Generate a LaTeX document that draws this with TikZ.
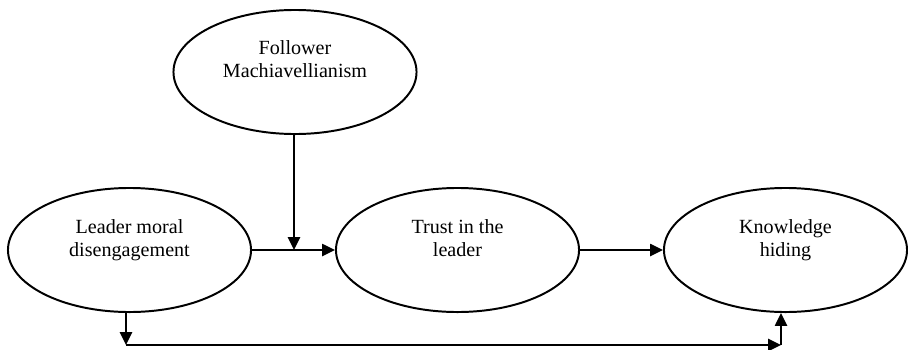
\documentclass[tikz,border=0pt]{standalone}
\usepackage{fontspec}
\setmainfont{Liberation Serif}
\usetikzlibrary{shapes.geometric, arrows.meta, positioning, calc}
\tikzset{
  varnode/.style={ellipse, draw=black, line width=1.4pt,
                  minimum width=6.075cm, minimum height=3.1cm, inner sep=0pt},
  varlabel/.style={align=center, anchor=north, inner sep=0pt,
                   font=\fontsize{14.3}{16.5}\selectfont},
  arrow/.style={-{Triangle[length=0.32cm, width=0.3cm]}, line width=1.4pt}
}

\begin{document}
\begin{tikzpicture}[x=0.025cm, y=-0.025cm]
  \useasboundingbox (0,0) rectangle (908,349);
  % constructs
  \node[varnode] (fm)  at (295,72)    {};
  \node[varnode] (lmd) at (129.5,250) {};
  \node[varnode] (tl)  at (457.5,250) {};
  \node[varnode] (kh)  at (785.5,250) {};
  \node[varlabel] (fmtext)  at ([yshift=0.79cm]fm.center)  {Follower\\Machiavellianism};
  \node[varlabel] (lmdtext) at ([yshift=0.78cm]lmd.center) {Leader moral\\disengagement};
  \node[varlabel] (tltext)  at ([yshift=0.78cm]tl.center)  {Trust in the\\leader};
  \node[varlabel] (khtext)  at ([yshift=0.78cm]kh.center)  {Knowledge\\hiding};
  % paths
  \draw[arrow] (lmd.east) -- (tl.west);
  \draw[arrow] (tl.east) -- (kh.west);
  \draw[arrow] ([xshift=-0.025cm]fm.south) -- ([xshift=-0.025cm]fm.south |- lmd.east);
  % direct effect
  \coordinate (lo) at (126,345);
  \coordinate (ro) at (781,345);
  \draw[arrow] ([xshift=-0.0875cm]lmd.south) -- (lo);
  \draw[arrow] (lo) -- (ro);
  \draw[arrow] (ro) -- (ro |- kh.south);
\end{tikzpicture}
\end{document}
